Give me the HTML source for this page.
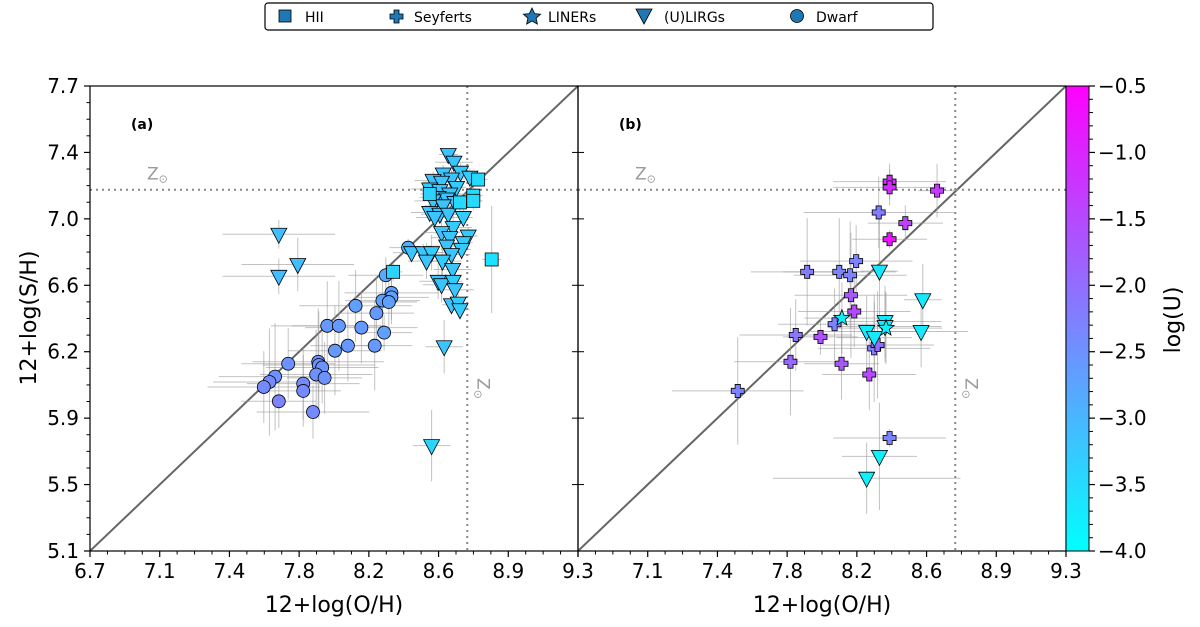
<!DOCTYPE html>
<html><head><meta charset="utf-8"><style>
body{margin:0;background:#fff;}
svg{display:block;font-family:"DejaVu Sans","Liberation Sans",sans-serif;}
</style></head><body>
<svg id="fig" width="1200" height="627" viewBox="0 0 1200 627">
<defs><linearGradient id="cg" x1="0" y1="1" x2="0" y2="0"><stop offset="0" stop-color="#00ffff"/><stop offset="1" stop-color="#ff00ff"/></linearGradient></defs>
<g>
<rect x="265" y="3" width="668" height="27" rx="3" fill="#fff" stroke="#000" stroke-width="1.2"/>
<rect x="279" y="10" width="12" height="12" fill="#1f77b4" stroke="#000" stroke-width="0.8"/>
<text x="305" y="22" font-size="14">HII</text>
<path d="M394,10h5v4h4v5h-4v4h-5v-4h-4v-5h4z" fill="#1f77b4" stroke="#000" stroke-width="0.8"/>
<text x="414" y="22" font-size="14">Seyferts</text>
<path d="M532,8 L534.6,13.6 L540.6,14.2 L536.1,18.2 L537.4,24.1 L532,21 L526.6,24.1 L527.9,18.2 L523.4,14.2 L529.4,13.6Z" fill="#1f77b4" stroke="#000" stroke-width="0.8"/>
<text x="548" y="22" font-size="14">LINERs</text>
<path d="M636,9 L652,9 L644,24Z" fill="#1f77b4" stroke="#000" stroke-width="0.8"/>
<text x="664" y="22" font-size="14">(U)LIRGs</text>
<circle cx="797" cy="16" r="6.5" fill="#1f77b4" stroke="#000" stroke-width="0.8"/>
<text x="816" y="22" font-size="14">Dwarf</text>
</g>
<g id="pa"></g>
<g id="pb"></g>
<g>
<rect x="1066" y="86" width="23" height="465" fill="url(#cg)" stroke="#000" stroke-width="1"/>
<g id="cbt"></g>
<text transform="translate(1180,320) rotate(-90)" text-anchor="middle" font-size="22">log(U)</text>
</g>
<text x="334" y="612" text-anchor="middle" font-size="22">12+log(O/H)</text>
<text x="822" y="612" text-anchor="middle" font-size="22">12+log(O/H)</text>
<text transform="translate(36,318) rotate(-90)" text-anchor="middle" font-size="22">12+log(S/H)</text>
</svg>
<script>
// ---- data ----
const xTicks=["6.7","7.1","7.4","7.8","8.2","8.6","8.9","9.3"];
const yTicks=["5.1","5.5","5.9","6.2","6.6","7.0","7.4","7.7"];
const cbTicks=[-0.5,-1.0,-1.5,-2.0,-2.5,-3.0,-3.5,-4.0];
const dwarfX=[8.395,8.276,8.306,8.306,8.258,8.292,8.115,8.226,7.964,8.026,8.146,8.267,8.074,8.217,8.005,7.756,7.916,7.919,7.937,7.905,7.95,7.686,7.656,7.626,7.836,7.836,7.706,7.888];
const dwarfY=[6.796,6.642,6.543,6.518,6.5,6.492,6.471,6.43,6.359,6.359,6.349,6.321,6.248,6.248,6.22,6.147,6.158,6.14,6.126,6.087,6.068,6.075,6.045,6.017,6.036,5.995,5.937,5.877];
const dwarfU=[-2.9,-2.8,-2.7,-2.7,-2.7,-2.7,-2.7,-2.6,-2.6,-2.6,-2.6,-2.7,-2.6,-2.6,-2.6,-2.5,-2.5,-2.5,-2.5,-2.5,-2.5,-2.5,-2.4,-2.4,-2.4,-2.4,-2.3,-2.4];
const dwarfEX=[0.1,0.2,0.25,0.2,0.2,0.15,0.3,0.2,0.3,0.25,0.3,0.15,0.2,0.2,0.25,0.25,0.35,0.3,0.3,0.3,0.2,0.3,0.3,0.3,0.3,0.2,0.2,0.3];
const dwarfEY=[0.05,0.1,0.15,0.15,0.15,0.15,0.2,0.2,0.25,0.25,0.2,0.1,0.2,0.25,0.25,0.2,0.3,0.3,0.2,0.25,0.2,0.3,0.3,0.2,0.2,0.2,0.15,0.15];
const lirgAX=[7.706,7.807,7.706,8.587,8.52,8.609,8.639,8.674,8.582,8.724,8.528,8.626,8.573,8.51,8.564,8.653,8.617,8.555,8.6,8.528,8.644,8.582,8.51,8.564,8.609,8.689,8.537,8.635,8.573,8.715,8.617,8.689,8.6,8.68,8.413,8.475,8.52,8.626,8.493,8.578,8.632,8.555,8.573,8.635,8.644,8.626,8.662,8.671];
const lirgAY=[6.871,6.702,6.636,6.242,5.689,7.317,7.274,7.218,7.208,7.19,7.171,7.18,7.162,7.124,7.115,7.133,7.096,7.077,7.068,7.058,7.049,7.03,6.993,6.983,6.983,6.965,6.965,6.908,6.88,6.861,6.852,6.824,6.805,6.786,6.768,6.768,6.768,6.758,6.721,6.721,6.674,6.608,6.589,6.608,6.561,6.477,6.486,6.449];
const lirgAU=[-3.1,-3.1,-3.1,-3.2,-3.4,-3.2,-3.2,-3.3,-3.2,-3.3,-3.2,-3.2,-3.2,-3.3,-3.2,-3.3,-3.2,-3.2,-3.2,-3.3,-3.2,-3.2,-3.2,-3.2,-3.2,-3.3,-3.2,-3.3,-3.2,-3.3,-3.2,-3.3,-3.2,-3.3,-3.2,-3.2,-3.3,-3.2,-3.2,-3.3,-3.2,-3.2,-3.2,-3.3,-3.2,-3.2,-3.3,-3.3];
const lirgAEX=[0.3,0.3,0.3,0.1,0.1,0.05,0.1,0.05,0.1,0.05,0.1,0.1,0.1,0.1,0.1,0.05,0.1,0.1,0.1,0.1,0.05,0.1,0.1,0.1,0.1,0.05,0.1,0.1,0.1,0.05,0.1,0.05,0.1,0.05,0.1,0.1,0.1,0.1,0.1,0.1,0.1,0.1,0.1,0.05,0.1,0.05,0.05,0.05];
const lirgAEY=[0.08,0.15,0.1,0.15,0.2,0.03,0.05,0.05,0.05,0.05,0.05,0.05,0.05,0.05,0.05,0.05,0.05,0.05,0.05,0.05,0.05,0.05,0.05,0.05,0.05,0.05,0.05,0.1,0.1,0.05,0.1,0.05,0.1,0.05,0.05,0.05,0.1,0.1,0.1,0.1,0.1,0.1,0.1,0.1,0.1,0.05,0.05,0.05];
const hiiX=[8.768,8.742,8.742,8.671,8.51,8.84,8.315];
const hiiY=[7.177,7.087,7.058,7.049,7.096,6.73,6.661];
const hiiU=[-3.5,-3.5,-3.5,-3.5,-3.4,-3.6,-3.4];
const hiiEX=[0.05,0.05,0.05,0.05,0.05,0.05,0.05];
const hiiEY=[0.03,0.05,0.05,0.05,0.05,0.3,0.05];
const seyX=[8.36,8.36,8.613,8.302,8.444,8.36,8.182,7.921,8.092,8.15,8.154,8.172,8.067,7.86,7.992,7.832,8.104,8.278,8.296,8.252,7.551,8.36];
const seyY=[7.165,7.133,7.115,6.993,6.933,6.843,6.721,6.661,6.661,6.642,6.53,6.439,6.368,6.308,6.297,6.158,6.147,6.233,6.252,6.087,5.995,5.732];
const seyU=[-1.1,-1.1,-1.3,-2.2,-1.4,-0.8,-2.3,-2.2,-2.3,-2.3,-1.7,-1.5,-2.3,-2.1,-1.6,-1.9,-1.7,-2.2,-2.0,-1.5,-2.3,-2.3];
const seyEX=[0.3,0.3,0.1,0.4,0.2,0.2,0.3,0.3,0.3,0.3,0.3,0.3,0.3,0.3,0.2,0.3,0.2,0.3,0.3,0.25,0.35,0.3];
const seyEY=[0.1,0.1,0.15,0.2,0.1,0.05,0.2,0.3,0.3,0.3,0.35,0.2,0.2,0.2,0.1,0.3,0.2,0.3,0.3,0.2,0.3,0.05];
const lirgBX=[8.306,8.537,8.336,8.336,8.238,8.279,8.528,8.306,8.238];
const lirgBY=[6.665,6.505,6.383,6.355,6.327,6.293,6.327,5.629,5.507];
const lirgBU=[-3.7,-3.7,-3.7,-3.7,-3.7,-3.7,-3.7,-3.8,-3.8];
const lirgBEX=[0.1,0.1,0.3,0.3,0.3,0.2,0.25,0.2,0.5];
const lirgBEY=[0.3,0.2,0.2,0.2,0.2,0.2,0.2,0.3,0.2];
const linX=[8.106,8.341];
const linY=[6.402,6.346];
const linU=[-3.8,-3.8];
const linEX=[0.2,0.3];
const linEY=[0.2,0.2];
// ---- drawing ----
const NS="http://www.w3.org/2000/svg";
const X0=6.7,X1=9.3,Y0=5.1,Y1=7.7,PT=86,PB=551,PW=488;
function sx(ox,v){return ox+(v-X0)/(X1-X0)*PW;}
function sy(v){return PB-(v-Y0)/(Y1-Y0)*(PB-PT);}
function col(u){const t=Math.max(0,Math.min(1,(u+4)/3.5));return `rgb(${Math.round(255*t)},${Math.round(255*(1-t))},255)`;}
function mk(tag,attrs,parent){const e=document.createElementNS(NS,tag);for(const k in attrs)e.setAttribute(k,attrs[k]);parent.appendChild(e);return e;}
function marker(g,type,cx,cy,c){
  let e;
  if(type==="circle"){e=mk("circle",{cx:cx,cy:cy,r:6.5,fill:c,stroke:"#000","stroke-width":0.8},g);}
  else if(type==="square"){e=mk("rect",{x:cx-6.5,y:cy-6.5,width:13,height:13,fill:c,stroke:"#000","stroke-width":0.8},g);}
  else if(type==="tri"){e=mk("path",{d:`M${cx-8},${cy-6}L${cx+8},${cy-6}L${cx},${cy+9}Z`,fill:c,stroke:"#000","stroke-width":0.8},g);}
  else if(type==="cross"){const a=2.6,b=6.5;e=mk("path",{d:`M${cx-a},${cy-b}h${2*a}v${b-a}h${b-a}v${2*a}h-${b-a}v${b-a}h-${2*a}v-${b-a}h-${b-a}v-${2*a}h${b-a}z`,fill:c,stroke:"#000","stroke-width":0.8},g);}
  else {let p="";for(let i=0;i<10;i++){const r=i%2?3.6:8.5,an=-Math.PI/2+i*Math.PI/5;p+=(i?"L":"M")+(cx+r*Math.cos(an)).toFixed(1)+","+(cy+r*Math.sin(an)).toFixed(1);}e=mk("path",{d:p+"Z",fill:c,stroke:"#000","stroke-width":0.8},g);}
  return e;
}
function series(g,ox,X,Y,U,EX,EY,type,name){
  const eg=mk("g",{},g);
  
  
  for(let i=0;i<X.length;i++){
    const cx=sx(ox,X[i]),cy=sy(Y[i]);
    mk("line",{x1:sx(ox,X[i]-EX[i]),x2:sx(ox,X[i]+EX[i]),y1:cy,y2:cy,stroke:"#999","stroke-opacity":0.6,"stroke-width":1},eg);
    mk("line",{x1:cx,x2:cx,y1:sy(Y[i]-EY[i]),y2:sy(Y[i]+EY[i]),stroke:"#999","stroke-opacity":0.6,"stroke-width":1},eg);
  }
  return ()=>{for(let i=0;i<X.length;i++){
    const m=marker(g,type,sx(ox,X[i]),sy(Y[i]),col(U[i]));
    
    
  }};
}
function zsun(parent,attrs){
  const t=mk("text",attrs,parent);
  const a=mk("tspan",{},t);a.textContent="Z";
  const b=mk("tspan",{"font-size":11,dy:3},t);b.textContent="⊙";
  return t;
}
function panel(id,ox,label,leftLabels){
  const g=document.getElementById(id);
  const ZX=8.71,ZY=7.12;
  const c=mk("clipPath",{id:id+"c"},g);mk("rect",{x:ox,y:PT,width:PW,height:PB-PT},c);
  const pg=mk("g",{"clip-path":`url(#${id}c)`},g);
  const dl=mk("line",{x1:sx(ox,X0),y1:sy(Y0),x2:sx(ox,X1),y2:sy(Y1),stroke:"#666","stroke-width":2},pg);
  
  
  const vl=mk("line",{x1:sx(ox,ZX),x2:sx(ox,ZX),y1:PT,y2:PB,stroke:"#888","stroke-width":2,"stroke-dasharray":"2,4"},pg);
  
  
  const hl=mk("line",{x1:ox,x2:ox+PW,y1:sy(ZY),y2:sy(ZY),stroke:"#888","stroke-width":2,"stroke-dasharray":"2,4"},pg);
  
  
  const t1=zsun(g,{x:ox+57,y:sy(ZY)-10,fill:"#999","font-size":17});
  
  
  const t2=zsun(g,{transform:`translate(${sx(ox,ZX)+10},${378}) rotate(90)`,fill:"#999","font-size":17});
  
  
  const pl=mk("text",{x:ox+41,y:129,"font-size":14,"font-weight":"bold"},g);pl.textContent=label;
  
  
  mk("rect",{x:ox,y:PT,width:PW,height:PB-PT,fill:"none",stroke:"#000","stroke-width":1.2},g);
  for(let i=0;i<xTicks.length;i++){const x=ox+i*PW/7;
    mk("line",{x1:x,x2:x,y1:PB,y2:PB+6,stroke:"#000","stroke-width":1.2},g);
    if(i<7)for(let k=1;k<4;k++){const xm=x+k*PW/28;mk("line",{x1:xm,x2:xm,y1:PB,y2:PB+3.5,stroke:"#000"},g);}
    if(!leftLabels&&i===0)continue;
    const t=mk("text",{x:x,y:PB+27,"text-anchor":"middle","font-size":20},g);t.textContent=xTicks[i];
    
    
  }
  for(let i=0;i<yTicks.length;i++){const y=PB-i*(PB-PT)/7;
    if(leftLabels){mk("line",{x1:ox-6,x2:ox,y1:y,y2:y,stroke:"#000","stroke-width":1.2},g);
      if(i<7)for(let k=1;k<4;k++){const ym=y-k*(PB-PT)/28;mk("line",{x1:ox-3.5,x2:ox,y1:ym,y2:ym,stroke:"#000"},g);}
      const t=mk("text",{x:ox-11,y:y+7,"text-anchor":"end","font-size":20},g);t.textContent=yTicks[i];
      
      
      mk("line",{x1:ox+PW-6,x2:ox+PW,y1:y,y2:y,stroke:"#000"},g);
    } else {mk("line",{x1:ox,x2:ox+6,y1:y,y2:y,stroke:"#000"},g);}
  }
  return pg;
}
const pa=panel("pa",90,"(a)",true);
const pb=panel("pb",578,"(b)",false);
const d=[series(pa,90,dwarfX,dwarfY,dwarfU,dwarfEX,dwarfEY,"circle","dwarf"),
series(pa,90,lirgAX,lirgAY,lirgAU,lirgAEX,lirgAEY,"tri","ulirg-a"),
series(pa,90,hiiX,hiiY,hiiU,hiiEX,hiiEY,"square","hii"),
series(pb,578,seyX,seyY,seyU,seyEX,seyEY,"cross","seyfert"),
series(pb,578,lirgBX,lirgBY,lirgBU,lirgBEX,lirgBEY,"tri","ulirg-b"),
series(pb,578,linX,linY,linU,linEX,linEY,"star","liner")];
d.forEach(f=>f());
const cb=document.getElementById("cbt");
for(let i=0;i<cbTicks.length;i++){const y=86+(-0.5-cbTicks[i])/3.5*465;
  mk("line",{x1:1089,x2:1095,y1:y,y2:y,stroke:"#000","stroke-width":1.2},cb);
  const t=mk("text",{x:1098,y:y+7,"font-size":20},cb);t.textContent="\u2212"+Math.abs(cbTicks[i]).toFixed(1);
  
  
  if(i<cbTicks.length-1)for(let k=1;k<5;k++){const ym=y+k*465/35;mk("line",{x1:1089,x2:1093,y1:ym,y2:ym,stroke:"#000"},cb);}
}
</script>
</body></html>
